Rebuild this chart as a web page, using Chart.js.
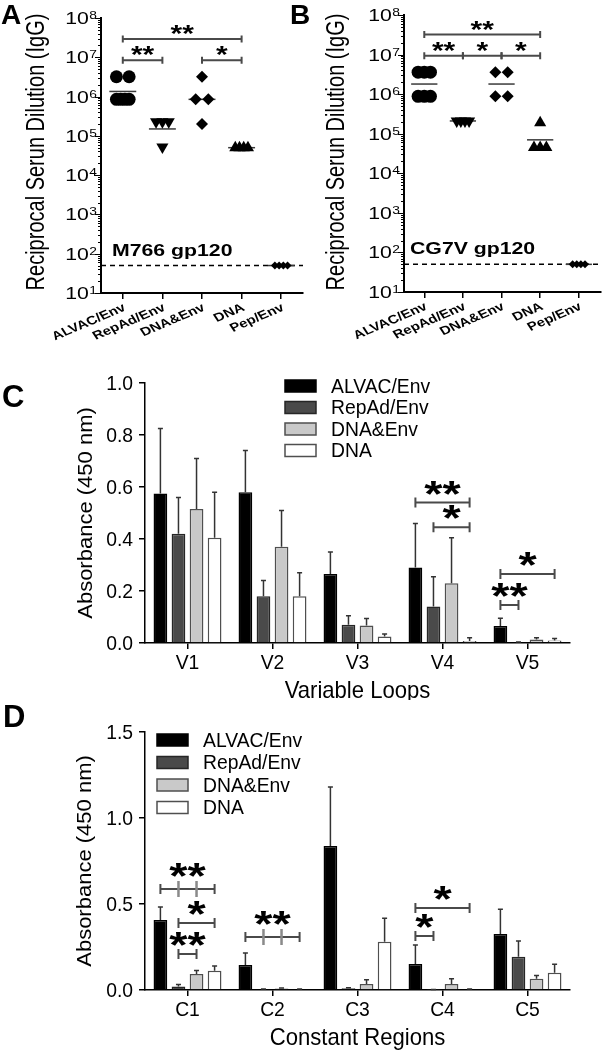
<!DOCTYPE html>
<html>
<head>
<meta charset="utf-8">
<script src="https://cdn.jsdelivr.net/npm/chart.js@4.4.1/dist/chart.umd.min.js"></script>
<style>
  html, body { margin: 0; padding: 0; background: #fff; }
  body { width: 608px; height: 1050px; position: relative; overflow: hidden; }
  .wrap { position: absolute; }
  .letter { position: absolute; font-family: 'Liberation Sans', Arial, sans-serif; font-weight: bold; line-height: 1; color: #000; }
</style>
</head>
<body>
<div class="wrap" style="left:0;top:0;width:310px;height:350px"><canvas id="chartA"></canvas></div>
<div class="wrap" style="left:304px;top:0;width:304px;height:350px"><canvas id="chartB"></canvas></div>
<div class="wrap" style="left:0;top:350px;width:608px;height:350px"><canvas id="chartC"></canvas></div>
<div class="wrap" style="left:0;top:700px;width:608px;height:350px"><canvas id="chartD"></canvas></div>
<div class="letter" style="left:1px;top:1px;font-size:28px">A</div>
<div class="letter" style="left:290px;top:1px;font-size:28px">B</div>
<div class="letter" style="left:2px;top:381px;font-size:31px">C</div>
<div class="letter" style="left:3px;top:701px;font-size:31px">D</div>
<script>
// groups on the x axis of A and B
const groups = ['ALVAC/Env', 'RepAd/Env', 'DNA&Env', 'DNA', 'Pep/Env'];
const decades = [1, 2, 3, 4, 5, 6, 7, 8];
const detectionLimit = 50;

// A: M766 gp120 endpoint titers
const m766Alvac = [3.2e6, 3.2e6, 8.5e5, 8.5e5, 8.5e5, 8.5e5];
const m766RepAd = [2.3e5, 2.3e5, 2.3e5, 5.2e4];
const m766DnaEnv = [3.2e6, 8.5e5, 8.5e5, 2.0e5];
const m766Dna = [5e4, 5e4, 5e4, 5e4];
const m766Pep = [50, 50, 50, 50];
const m766Means = [1.35e6, 1.5e5, 8.5e5, 5e4, 50];
const m766Sig = [[0, 3, 2.9e7, '**'], [0, 1, 8.4e6, '**'], [2, 3, 8.4e6, '*']];

// B: CG7V gp120 endpoint titers
const cg7vAlvac = [3.6e6, 3.6e6, 3.6e6, 8.8e5, 8.8e5, 8.8e5];
const cg7vRepAd = [2.1e5, 2.1e5, 2.1e5, 2.1e5];
const cg7vDnaEnv = [3.6e6, 3.6e6, 8.8e5, 8.8e5];
const cg7vDna = [1.9e5, 4.5e4, 4.5e4, 4.5e4];
const cg7vPep = [50, 50, 50, 50];
const cg7vMeans = [1.8e6, 2.1e5, 1.8e6, 7e4, 50];
const cg7vSig = [[0, 3, 3.2e7, '**'], [0, 1, 9.4e6, '**'], [1, 2, 9.4e6, '*'], [2, 3, 9.4e6, '*']];

// C and D bar series
const seriesNames = ['ALVAC/Env', 'RepAd/Env', 'DNA&Env', 'DNA'];

const loops = ['V1', 'V2', 'V3', 'V4', 'V5'];
const loopAlvac = [0.575, 0.58, 0.265, 0.29, 0.065];
const loopRepAd = [0.42, 0.18, 0.07, 0.14, 0.003];
const loopDnaEnv = [0.515, 0.37, 0.067, 0.23, 0.013];
const loopDna = [0.405, 0.18, 0.025, 0.008, 0.01];
const loopAlvacSem = [0.25, 0.16, 0.085, 0.17, 0.03];
const loopRepAdSem = [0.14, 0.06, 0.035, 0.115, 0.001];
const loopDnaEnvSem = [0.195, 0.14, 0.027, 0.175, 0.007];
const loopDnaSem = [0.175, 0.09, 0.01, 0.012, 0.007];
const loopTicks = [0, 0.2, 0.4, 0.6, 0.8, 1.0];
// [category, from series, to series, height, label, middle ticks]
const loopSig = [[3, 0, 3, 0.54, '**'], [3, 1, 3, 0.445, '*'], [4, 0, 3, 0.265, '*'], [4, 0, 1, 0.146, '**']];

const regions = ['C1', 'C2', 'C3', 'C4', 'C5'];
const regAlvac = [0.407, 0.145, 0.837, 0.151, 0.325];
const regRepAd = [0.02, 0.005, 0.01, 0.002, 0.194];
const regDnaEnv = [0.093, 0.008, 0.035, 0.035, 0.065];
const regDna = [0.112, 0.005, 0.281, 0.005, 0.1];
const regAlvacSem = [0.075, 0.07, 0.343, 0.11, 0.145];
const regRepAdSem = [0.012, 0.001, 0.003, 0.001, 0.091];
const regDnaEnvSem = [0.02, 0.004, 0.025, 0.03, 0.02];
const regDnaSem = [0.027, 0.001, 0.136, 0.001, 0.05];
const regTicks = [0, 0.5, 1.0, 1.5];
const regSig = [[0, 0, 3, 0.587, '**', true], [0, 1, 3, 0.39, '*'], [0, 1, 2, 0.209, '**'],
                [1, 0, 3, 0.308, '**', true], [3, 0, 3, 0.477, '*'], [3, 0, 1, 0.314, '*']];

const FAM = "'Liberation Sans', Arial, sans-serif";
const font = (size, bold) => (bold ? 'bold ' : '') + size + 'px ' + FAM;

function text(ctx, str, x, y, o) {
  ctx.save();
  ctx.translate(x, y);
  ctx.scale(o.sx || 1, 1);
  if (o.angle) ctx.rotate(o.angle);
  ctx.font = o.font;
  ctx.fillStyle = o.color || '#000';
  ctx.textAlign = o.align || 'left';
  ctx.textBaseline = o.baseline || 'alphabetic';
  ctx.fillText(str, 0, 0);
  ctx.restore();
}

function stars(ctx, str, x, lineY, gap, size, sx) {
  ctx.save();
  ctx.font = font(size, true);
  const m = ctx.measureText(str);
  ctx.restore();
  text(ctx, str, x, lineY - gap - m.actualBoundingBoxDescent, { font: font(size, true), align: 'center', sx: sx });
}

function bracket(ctx, x1, x2, y, mids, end) {
  ctx.save();
  ctx.strokeStyle = '#4a4a4a';
  ctx.lineWidth = 2;
  ctx.beginPath();
  ctx.moveTo(x1, y); ctx.lineTo(x2, y);
  ctx.moveTo(x1, y - end); ctx.lineTo(x1, y + end);
  ctx.moveTo(x2, y - end); ctx.lineTo(x2, y + end);
  ctx.stroke();
  if (mids.length) {
    ctx.strokeStyle = '#8a8a8a';
    ctx.lineWidth = 2.5;
    ctx.beginPath();
    mids.forEach(mx => { ctx.moveTo(mx, y - 8); ctx.lineTo(mx, y + 8); });
    ctx.stroke();
  }
  ctx.restore();
}

// spread tied values sideways like a column scatter
function spreadPoints(values, group) {
  const counts = {}, seen = {};
  values.forEach(v => { counts[v] = (counts[v] || 0) + 1; });
  return values.map(v => {
    const n = counts[v];
    const k = seen[v] = (seen[v] === undefined ? 0 : seen[v] + 1);
    const off = n > 1 ? (k / (n - 1) - 0.5) * 0.32 : 0;
    return { x: group + off, y: v };
  });
}

const shapes = [
  { style: 'circle', radius: 6.5, rotation: 0 },
  { style: 'triangle', radius: 7, rotation: 180 },
  { style: 'rectRot', radius: 6, rotation: 0 },
  { style: 'triangle', radius: 7, rotation: 0 },
  { style: 'rectRot', radius: 4, rotation: 0 }
];

function titerChart(id, o) {
  const SX = 1.25;
  const datasets = [];
  o.values.forEach((vals, i) => {
    datasets.push({
      type: 'scatter', data: spreadPoints(vals, i),
      pointStyle: shapes[i].style, rotation: shapes[i].rotation, pointRadius: shapes[i].radius,
      backgroundColor: '#000', borderColor: '#000', borderWidth: 0, order: 1
    });
    datasets.push({
      type: 'line', data: [{ x: i - 0.34, y: o.means[i] }, { x: i + 0.34, y: o.means[i] }],
      borderColor: '#3a3a3a', borderWidth: 1.5, pointRadius: 0, order: 2
    });
  });

  const decor = {
    id: 'titerDecor',
    beforeDatasetsDraw(chart) {
      const { ctx, chartArea: a, scales: { y } } = chart;
      const dy = y.getPixelForValue(detectionLimit);
      ctx.save();
      ctx.strokeStyle = '#000';
      ctx.lineWidth = 1.5;
      ctx.setLineDash([5, 4]);
      ctx.beginPath();
      ctx.moveTo(a.left, dy); ctx.lineTo(a.right, dy);
      ctx.stroke();
      ctx.restore();
    },
    afterDraw(chart) {
      const { ctx, chartArea: a, scales: { x, y } } = chart;
      // log axis ticks and labels
      ctx.save();
      ctx.strokeStyle = '#000';
      ctx.lineWidth = 1;
      ctx.beginPath();
      decades.forEach(e => {
        const py = Math.round(y.getPixelForValue(10 ** e)) + 0.5;
        ctx.moveTo(a.left - 6, py); ctx.lineTo(a.left, py);
        if (e < 8) {
          for (let m = 2; m <= 9; m++) {
            const my = Math.round(y.getPixelForValue(m * 10 ** e)) + 0.5;
            ctx.moveTo(a.left - 3, my); ctx.lineTo(a.left, my);
          }
        }
      });
      ctx.stroke();
      ctx.restore();
      decades.forEach(e => {
        const py = y.getPixelForValue(10 ** e);
        ctx.save();
        ctx.font = font(11);
        const we = ctx.measureText(String(e)).width * SX;
        ctx.restore();
        const xr = a.left - 4;
        text(ctx, String(e), xr - we, py + 1, { font: font(11), sx: SX });
        text(ctx, '10', xr - we - 0.5, py + 6, { font: font(17), align: 'right', sx: SX });
      });
      // category labels
      groups.forEach((g, i) => {
        text(ctx, g, x.getPixelForValue(i) + 2, a.bottom + 14,
          { font: font(12, true), align: 'right', baseline: 'middle', sx: SX, angle: -28 * Math.PI / 180 });
      });
      // axis title
      text(ctx, 'Reciprocal Serun Dilution (IgG)', o.titleX, 152,
        { font: font(20), align: 'center', baseline: 'middle', sx: SX, angle: -Math.PI / 2 });
      // antigen label
      text(ctx, o.antigen, a.left + o.antigenDx, y.getPixelForValue(detectionLimit) - 10,
        { font: font(17, true), sx: SX });
      // significance
      o.sig.forEach(([f, t, at, lab]) => {
        const ly = y.getPixelForValue(at);
        const x1 = x.getPixelForValue(f), x2 = x.getPixelForValue(t);
        bracket(ctx, x1, x2, ly, [], 3.5);
        stars(ctx, lab, (x1 + x2) / 2, ly, 5, 24, SX);
      });
    }
  };

  return new Chart(document.getElementById(id), {
    type: 'scatter',
    data: { datasets },
    options: {
      responsive: true, maintainAspectRatio: false, animation: false,
      layout: { padding: { left: 0, top: o.top, right: o.right, bottom: 0 } },
      plugins: { legend: { display: false }, tooltip: { enabled: false } },
      scales: {
        x: {
          type: 'linear', min: o.xMin, max: o.xMax,
          afterBuildTicks: s => { s.ticks = groups.map((g, i) => ({ value: i })); },
          ticks: { display: false },
          grid: { display: true, drawOnChartArea: false, drawTicks: true, tickLength: 6, color: '#000', lineWidth: 1.5 },
          border: { display: true, color: '#000', width: 2 },
          afterFit: s => { s.height = o.xh; }
        },
        y: {
          type: 'logarithmic', min: 10, max: 1e8,
          ticks: { display: false },
          grid: { display: false },
          border: { display: true, color: '#000', width: 2 },
          afterFit: s => { s.width = o.yw; }
        }
      }
    },
    plugins: [decor]
  });
}

const barFill = ['#000000', '#4a4a4a', '#c9c9c9', '#ffffff'];
const barEdge = ['#000000', '#262626', '#4f4f4f', '#4f4f4f'];

function absorbanceChart(id, o) {
  const SX = 0.92;
  const decor = {
    id: 'barDecor',
    afterDatasetsDraw(chart) {
      const { ctx, scales: { y } } = chart;
      ctx.save();
      ctx.strokeStyle = '#333';
      ctx.lineWidth = 1.5;
      o.means.forEach((m, d) => {
        const meta = chart.getDatasetMeta(d);
        m.forEach((v, i) => {
          const bx = meta.data[i].x;
          const top = y.getPixelForValue(v + o.sems[d][i]);
          ctx.beginPath();
          ctx.moveTo(bx, meta.data[i].y); ctx.lineTo(bx, top);
          ctx.moveTo(bx - 2.5, top); ctx.lineTo(bx + 2.5, top);
          ctx.stroke();
        });
      });
      ctx.restore();
      o.sig.forEach(([c, f, t, at, lab, mid]) => {
        const ly = y.getPixelForValue(at);
        const x1 = chart.getDatasetMeta(f).data[c].x;
        const x2 = chart.getDatasetMeta(t).data[c].x;
        const mids = [];
        if (mid) for (let s = f + 1; s < t; s++) mids.push(chart.getDatasetMeta(s).data[c].x);
        bracket(ctx, x1, x2, ly, mids, 5);
        stars(ctx, lab, (x1 + x2) / 2, ly, mid ? 12 : 8, 36, 1.3);
      });
    },
    afterDraw(chart) {
      const { ctx, chartArea: a, scales: { x, y } } = chart;
      o.ticks.forEach(t => {
        text(ctx, t.toFixed(1), a.left - 12, y.getPixelForValue(t) + 1,
          { font: font(21), align: 'right', baseline: 'middle', sx: SX });
      });
      o.labels.forEach((l, i) => {
        text(ctx, l, x.getPixelForValue(i), a.bottom + 20,
          { font: font(21), align: 'center', baseline: 'middle', sx: SX });
      });
      text(ctx, o.xTitle, (a.left + a.right) / 2, a.bottom + 48,
        { font: font(24), align: 'center', baseline: 'middle', sx: SX });
      text(ctx, 'Absorbance (450 nm)', o.yTitleX, (a.top + a.bottom) / 2,
        { font: font(22), align: 'center', baseline: 'middle', sx: SX, angle: -Math.PI / 2 });
      // legend
      seriesNames.forEach((n, d) => {
        const ry = o.legendY + d * o.legendStep;
        ctx.save();
        ctx.fillStyle = barFill[d];
        ctx.strokeStyle = barEdge[d];
        ctx.lineWidth = 1.5;
        ctx.fillRect(o.legendX, ry - 6, 31, 12);
        ctx.strokeRect(o.legendX, ry - 6, 31, 12);
        ctx.restore();
        text(ctx, n, o.legendX + 46, ry + 1, { font: font(21), baseline: 'middle', sx: SX });
      });
    }
  };

  return new Chart(document.getElementById(id), {
    type: 'bar',
    data: {
      labels: o.labels,
      datasets: o.means.map((m, d) => ({
        label: seriesNames[d], data: m,
        backgroundColor: barFill[d], borderColor: barEdge[d], borderWidth: 1.5,
        categoryPercentage: 0.85, barPercentage: 0.76
      }))
    },
    options: {
      responsive: true, maintainAspectRatio: false, animation: false,
      layout: { padding: { left: 0, top: o.top, right: 38, bottom: 0 } },
      plugins: { legend: { display: false }, tooltip: { enabled: false } },
      scales: {
        x: {
          ticks: { display: false },
          grid: { display: true, offset: false, drawOnChartArea: false, drawTicks: true, tickLength: 6, color: '#000', lineWidth: 1.5 },
          border: { display: true, color: '#000', width: 1.5 },
          afterFit: s => { s.height = o.xh; }
        },
        y: {
          min: 0, max: o.ticks[o.ticks.length - 1],
          afterBuildTicks: s => { s.ticks = o.ticks.map(v => ({ value: v })); },
          ticks: { display: false },
          grid: { display: true, drawOnChartArea: false, drawTicks: true, tickLength: 6, color: '#000', lineWidth: 1.5 },
          border: { display: true, color: '#000', width: 1.5 },
          afterFit: s => { s.width = 145; }
        }
      }
    },
    plugins: [decor]
  });
}

titerChart('chartA', {
  values: [m766Alvac, m766RepAd, m766DnaEnv, m766Dna, m766Pep], means: m766Means, sig: m766Sig,
  antigen: 'M766 gp120', antigenDx: 11, titleX: 37,
  top: 18, right: 5, xh: 57, yw: 101, xMin: -0.55, xMax: 4.55
});
titerChart('chartB', {
  values: [cg7vAlvac, cg7vRepAd, cg7vDnaEnv, cg7vDna, cg7vPep], means: cg7vMeans, sig: cg7vSig,
  antigen: 'CG7V gp120', antigenDx: 6, titleX: 33,
  top: 15, right: 0, xh: 58, yw: 100, xMin: -0.525, xMax: 4.575
});
absorbanceChart('chartC', {
  labels: loops, ticks: loopTicks, xTitle: 'Variable Loops',
  means: [loopAlvac, loopRepAd, loopDnaEnv, loopDna],
  sems: [loopAlvacSem, loopRepAdSem, loopDnaEnvSem, loopDnaSem],
  sig: loopSig, top: 33, xh: 57, yTitleX: 86,
  legendX: 285, legendY: 36, legendStep: 21.5
});
absorbanceChart('chartD', {
  labels: regions, ticks: regTicks, xTitle: 'Constant Regions',
  means: [regAlvac, regRepAd, regDnaEnv, regDna],
  sems: [regAlvacSem, regRepAdSem, regDnaEnvSem, regDnaSem],
  sig: regSig, top: 32, xh: 60, yTitleX: 85,
  legendX: 157, legendY: 40, legendStep: 22.5
});
</script>
</body>
</html>
